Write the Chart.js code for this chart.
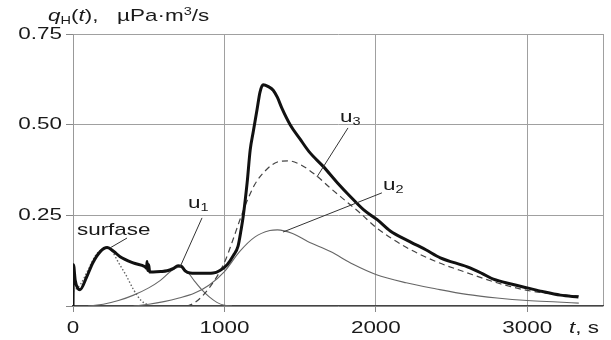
<!DOCTYPE html>
<html>
<head>
<meta charset="utf-8">
<script src="https://cdn.jsdelivr.net/npm/chart.js@4.4.1/dist/chart.umd.min.js"></script>
<style>
html, body { margin: 0; padding: 0; background: #fff; }
#wrap { width: 611px; height: 340px; }
</style>
</head>
<body>
<div id="wrap"><canvas id="chart"></canvas></div>
<script>
// axes
const xTicks = [0, 1000, 2000, 3000]
const yTicks = [0.25, 0.50, 0.75]

// total flux q_H(t) (thick line)
const totalT = [0, 3, 15, 46, 90, 132, 180, 225, 270, 311, 397, 476, 486, 489, 493, 500, 506, 529, 580, 621, 660, 694, 715, 740, 773, 850, 925, 970, 1018, 1060, 1090, 1110, 1124, 1150, 1170, 1190, 1216, 1235, 1256, 1290, 1322, 1350, 1380, 1434, 1500, 1560, 1652, 1750, 1831, 1920, 2009, 2095, 2227, 2330, 2426, 2604, 2700, 2776, 2900, 3000, 3100, 3219, 3338]
const totalQ = [0, 0.114, 0.07, 0.045, 0.08, 0.12, 0.15, 0.161, 0.15, 0.136, 0.119, 0.108, 0.104, 0.123, 0.098, 0.114, 0.094, 0.094, 0.095, 0.097, 0.103, 0.111, 0.11, 0.097, 0.091, 0.09, 0.091, 0.098, 0.114, 0.14, 0.165, 0.21, 0.247, 0.34, 0.43, 0.48, 0.543, 0.59, 0.61, 0.605, 0.595, 0.575, 0.545, 0.5, 0.46, 0.425, 0.385, 0.338, 0.302, 0.265, 0.238, 0.207, 0.177, 0.155, 0.133, 0.108, 0.09, 0.074, 0.06, 0.05, 0.04, 0.03, 0.025]

// "surfase" component (dotted)
const surfT = [0, 50, 100, 150, 200, 225, 260, 300, 350, 400, 450, 500]
const surfQ = [0.04, 0.06, 0.1, 0.14, 0.158, 0.16, 0.15, 0.12, 0.085, 0.045, 0.015, 0.002]

// u1 (thin)
const u1T = [100, 200, 300, 400, 500, 575, 650, 700, 750, 800, 850, 900, 950, 1000, 1050]
const u1Q = [0, 0.005, 0.015, 0.03, 0.05, 0.07, 0.097, 0.107, 0.097, 0.07, 0.045, 0.025, 0.01, 0.002, 0]

// u2 (thin)
const u2T = [400, 500, 600, 700, 800, 900, 1000, 1100, 1200, 1300, 1350, 1450, 1550, 1700, 1850, 2000, 2200, 2400, 2600, 2800, 3000, 3200, 3340]
const u2Q = [0, 0.005, 0.012, 0.022, 0.035, 0.058, 0.095, 0.15, 0.19, 0.208, 0.21, 0.2, 0.178, 0.15, 0.115, 0.087, 0.064, 0.047, 0.032, 0.022, 0.015, 0.011, 0.008]

// u3 (dashed)
const u3T = [750, 800, 900, 1000, 1050, 1100, 1150, 1200, 1275, 1350, 1425, 1500, 1600, 1700, 1800, 1900, 2000, 2200, 2400, 2600, 2800, 3000, 3200, 3340]
const u3Q = [0, 0.008, 0.05, 0.12, 0.175, 0.235, 0.29, 0.335, 0.375, 0.397, 0.4, 0.39, 0.362, 0.325, 0.29, 0.255, 0.217, 0.162, 0.122, 0.092, 0.064, 0.043, 0.032, 0.028]

const pts = (ts, qs) => ts.map((t, i) => ({ x: t, y: qs[i] }))

const FONT = '"Liberation Sans", Arial, sans-serif'
const SX = 1.32 // the original lettering is stretched sideways

// text made of pieces : [texte, font, decalage vertical]
function drawParts(ctx, parts, x, y, align, baseline) {
  ctx.save()
  ctx.textBaseline = baseline || 'alphabetic'
  let w = 0
  parts.forEach(p => { ctx.font = p[1]; w += ctx.measureText(p[0]).width })
  let x0 = x
  if (align === 'right') x0 = x - w * SX
  if (align === 'center') x0 = x - w * SX / 2
  ctx.translate(x0, y)
  ctx.scale(SX, 1)
  let cx = 0
  parts.forEach(p => {
    ctx.font = p[1]
    ctx.fillText(p[0], cx, p[2] || 0)
    cx += ctx.measureText(p[0]).width
  })
  ctx.restore()
}

const big = '17px ' + FONT
const bigIt = 'italic 17px ' + FONT
const small = '11px ' + FONT

// labels on the curves, anchored in data units
const notes = [
  { parts: [['surfase', big]], at: [26, 0.196], from: [357, 0.1875], to: [244, 0.16] },
  { parts: [['u', big], ['1', small, 3]], at: [759, 0.27], from: [852, 0.243], to: [707, 0.1075] },
  { parts: [['u', big], ['3', small, 3]], at: [1763, 0.507], from: [1816, 0.491], to: [1611, 0.356] },
  { parts: [['u', big], ['2', small, 3]], at: [2047, 0.32], from: [2040, 0.312], to: [1387, 0.204] }
]

const textPlugin = {
  id: 'texts',
  afterDatasetsDraw(chart) {
    const ctx = chart.ctx
    const xs = chart.scales.x, ys = chart.scales.y
    ctx.fillStyle = '#1a1a1a'

    // tick labels
    xTicks.forEach(v => drawParts(ctx, [[String(v), big]], xs.getPixelForValue(v), 328, 'center', 'middle'))
    yTicks.forEach(v => drawParts(ctx, [[v.toFixed(2), big]], 62, ys.getPixelForValue(v), 'right', 'middle'))

    // axis titles
    drawParts(ctx, [['t', bigIt], [', s', big]], 599, 328, 'right', 'middle')
    drawParts(ctx, [['q', bigIt], ['H', small, 3], ['(', big], ['t', bigIt], ['),', big], ['   \u00b5Pa\u00b7m', big], ['3', small, -6], ['/s', big]], 48, 21, 'left')

    // annotations + leader lines
    ctx.save()
    ctx.strokeStyle = '#333'
    ctx.lineWidth = 1
    notes.forEach(n => {
      ctx.beginPath()
      ctx.moveTo(xs.getPixelForValue(n.from[0]), ys.getPixelForValue(n.from[1]))
      ctx.lineTo(xs.getPixelForValue(n.to[0]), ys.getPixelForValue(n.to[1]))
      ctx.stroke()
      drawParts(ctx, n.parts, xs.getPixelForValue(n.at[0]), ys.getPixelForValue(n.at[1]), 'left')
    })
    ctx.restore()
  }
}

const gridColor = '#a0a0a0'

new Chart(document.getElementById('chart'), {
  type: 'line',
  data: {
    datasets: [
      { data: pts(totalT, totalQ), borderColor: '#111', borderWidth: 3 },
      { data: pts(u3T, u3Q), borderColor: '#444', borderWidth: 1.2, borderDash: [6, 4] },
      { data: pts(u2T, u2Q), borderColor: '#666', borderWidth: 1.1 },
      { data: pts(u1T, u1Q), borderColor: '#666', borderWidth: 1.1 },
      { data: pts(surfT, surfQ), borderColor: '#666', borderWidth: 1.4, borderDash: [1.5, 2] }
    ]
  },
  options: {
    responsive: true,
    maintainAspectRatio: false,
    animation: false,
    layout: { padding: { left: 73, right: 8, top: 34, bottom: 34 } },
    elements: {
      point: { radius: 0 },
      line: { cubicInterpolationMode: 'monotone', fill: false }
    },
    plugins: { legend: { display: false }, tooltip: { enabled: false } },
    scales: {
      x: {
        type: 'linear', min: 0, max: 3500,
        // grid every 1000 s, plus the right edge
        afterBuildTicks(s) { s.ticks = xTicks.concat([3500]).map(v => ({ value: v })) },
        afterFit(s) { s.height = 0 },
        ticks: { display: false },
        grid: {
          color: gridColor, lineWidth: 1, drawTicks: true, tickLength: 6,
          tickColor: c => (c.tick && c.tick.value === 3500) ? 'rgba(0,0,0,0)' : '#888'
        },
        border: { display: true, color: '#444', width: 1.2 }
      },
      y: {
        type: 'linear', min: 0, max: 0.75,
        afterBuildTicks(s) { s.ticks = [0].concat(yTicks).map(v => ({ value: v })) },
        afterFit(s) { s.width = 0 },
        ticks: { display: false },
        grid: { color: gridColor, lineWidth: 1, drawTicks: true, tickLength: 7, tickColor: '#888' },
        border: { display: true, color: '#999', width: 1 }
      }
    }
  },
  plugins: [textPlugin]
})
</script>
</body>
</html>
